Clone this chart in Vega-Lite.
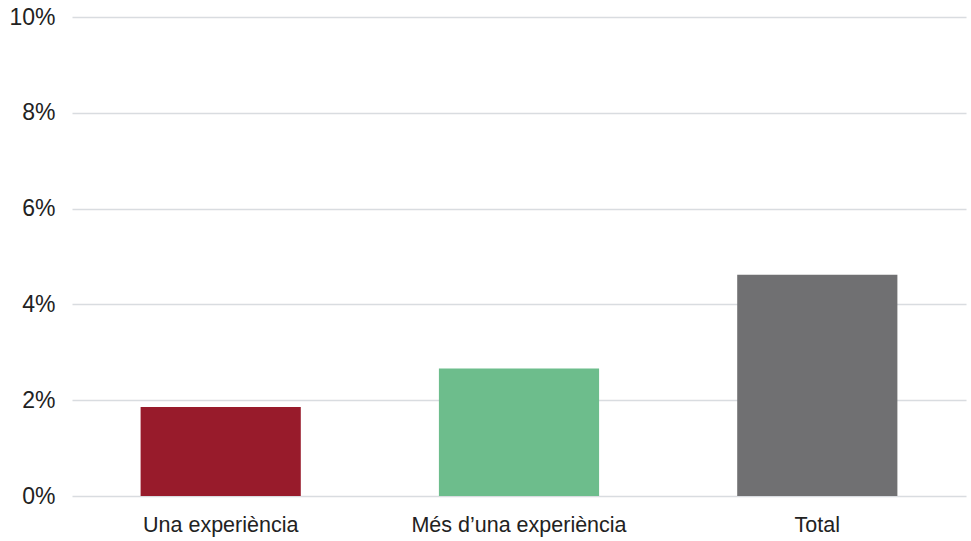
{
  "$schema": "https://vega.github.io/schema/vega-lite/v6.json",
  "autosize": "none",
  "width": 894,
  "height": 479,
  "padding": {"left": 72, "top": 17, "right": 5, "bottom": 45},
  "background": "#ffffff",
  "config": {"view": {"stroke": null}},
  "data": {
    "values": [
      {"categoria": "Una experiència", "valor": 1.86},
      {"categoria": "Més d’una experiència", "valor": 2.66},
      {"categoria": "Total", "valor": 4.62}
    ]
  },
  "mark": {"type": "bar"},
  "encoding": {
    "x": {
      "field": "categoria",
      "type": "nominal",
      "sort": null,
      "scale": {"paddingInner": 0.463, "paddingOuter": 0.23},
      "axis": {
        "title": null,
        "labelAngle": 0,
        "ticks": false,
        "domain": false,
        "labelPadding": 18,
        "labelLimit": 0,
        "labelFont": "Liberation Sans",
        "labelFontSize": 21.5,
        "labelColor": "#222222"
      }
    },
    "y": {
      "field": "valor",
      "type": "quantitative",
      "scale": {"domain": [0, 10]},
      "axis": {
        "title": null,
        "values": [0, 2, 4, 6, 8, 10],
        "labelExpr": "datum.value + '%'",
        "ticks": false,
        "domain": false,
        "labelPadding": 17,
        "labelFont": "Liberation Sans",
        "labelFontSize": 23,
        "labelColor": "#222222",
        "gridColor": "#d9dce0",
        "gridWidth": 1.5
      }
    },
    "color": {
      "field": "categoria",
      "type": "nominal",
      "scale": {
        "domain": ["Una experiència", "Més d’una experiència", "Total"],
        "range": ["#981b2b", "#6dbd8c", "#707072"]
      },
      "legend": null
    }
  }
}
